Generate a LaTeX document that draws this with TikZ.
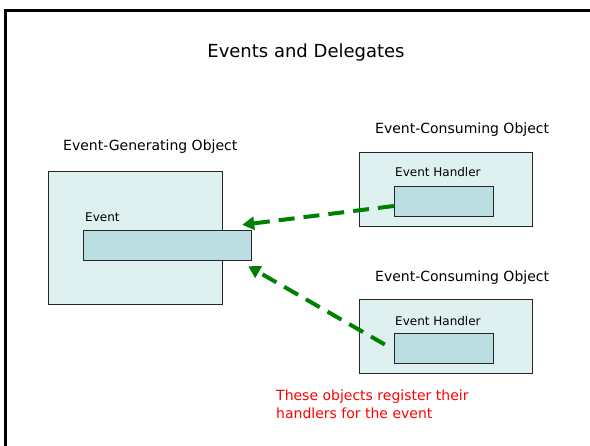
\documentclass[tikz,border=0pt]{standalone}
\usepackage{fontspec}
\setmainfont{DejaVu Sans}
\usetikzlibrary{arrows.meta}

\definecolor{boxfill}{RGB}{222,240,240}
\definecolor{slotfill}{RGB}{186,222,225}
\definecolor{linkgreen}{RGB}{0,128,0}

\begin{document}
\begin{tikzpicture}[x=1pt,y=-1pt,
    objbox/.style={draw=black!85, fill=boxfill, inner sep=0pt},
    slotbox/.style={draw=black!85, fill=slotfill, inner sep=0pt},
    caption/.style={anchor=west, inner sep=0pt, font=\fontsize{14}{16}\selectfont},
    small/.style={anchor=west, inner sep=0pt, font=\fontsize{12}{14}\selectfont},
    link/.style={linkgreen, line width=4pt, dash pattern=on 16pt off 9pt,
                 -{Triangle[length=12pt,width=13pt]}}]
    \useasboundingbox (0,0) rectangle (590,446);

    % Frame
    \draw[line width=3pt] (5.5,446) -- (5.5,10.5) -- (590,10.5);
    \node[inner sep=0pt, font=\fontsize{18}{21}\selectfont] (title) at (306,53) {Events and Delegates};

    % Event-Generating Object
    \node[caption] (genlabel) at (63,147) {Event-Generating Object};
    \node[objbox, minimum width=174, minimum height=133] (gen) at (135,237.5) {};
    \node[small] (eventlabel) at (85,217) {Event};
    \node[slotbox, minimum width=168, minimum height=30] (event) at (167,245) {};

    % Event-Consuming Object 1
    \node[caption] (conlabelA) at (375,130) {Event-Consuming Object};
    \node[objbox, minimum width=173, minimum height=74] (conA) at (445.5,189) {};
    \node[small] (handlerlabelA) at (395,172) {Event Handler};
    \node[slotbox, minimum width=99, minimum height=30] (handlerA) at (443.5,201) {};

    % Event-Consuming Object 2
    \node[caption] (conlabelB) at (375,278) {Event-Consuming Object};
    \node[objbox, minimum width=173, minimum height=74] (conB) at (445.5,336) {};
    \node[small] (handlerlabelB) at (395,321) {Event Handler};
    \node[slotbox, minimum width=99, minimum height=30] (handlerB) at (443.5,348.5) {};

    % Registration links
    \coordinate (tipA) at ([shift={(-9,-5)}]event.north east);
    \coordinate (tipB) at ([shift={(-3,6)}]event.south east);
    \draw[link] ([yshift=-5]handlerA.west) -- (tipA);
    \draw[link] ([shift={(-9,-4)}]handlerB.west) -- (tipB);

    \node[anchor=north west, inner sep=0pt, align=left, text=red,
          font=\fontsize{14}{18}\selectfont] (note) at (276,390)
          {These objects register their\\handlers for the event};
\end{tikzpicture}
\end{document}
